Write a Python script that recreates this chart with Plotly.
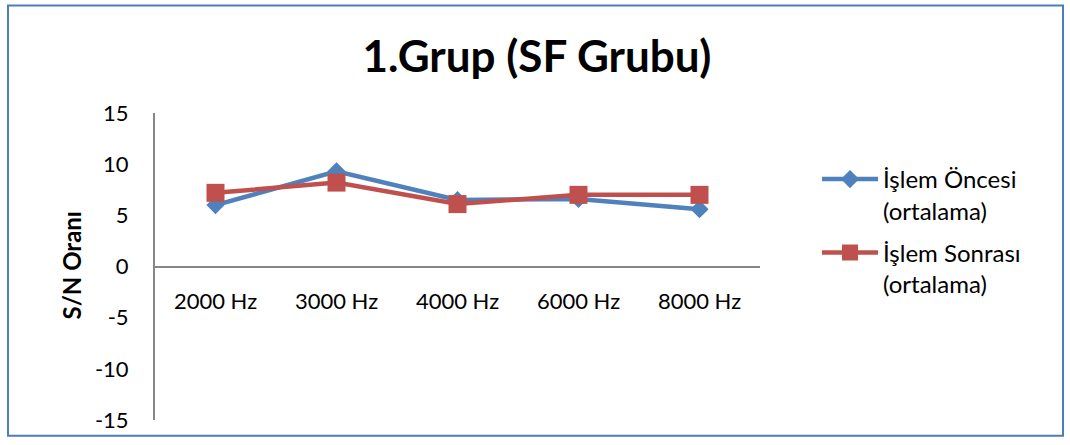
import plotly.graph_objects as go

categories = ["2000 Hz", "3000 Hz", "4000 Hz", "6000 Hz", "8000 Hz"]
oncesi = [6.0, 9.3, 6.5, 6.6, 5.6]
sonrasi = [7.2, 8.2, 6.1, 7.0, 7.0]
y_ticks = [-15, -10, -5, 0, 5, 10, 15]
y_tick_labels = [str(v) for v in y_ticks]
title_text = "1.Grup (SF Grubu)"
y_title = "S/N Oranı"
name_oncesi = "İşlem Öncesi<br>(ortalama)"
name_sonrasi = "İşlem Sonrası<br>(ortalama)"

FONT = "Lato"
BLUE = "#4F81BD"
RED = "#C0504D"
GRAY = "#868686"

W, H = 1070, 445
L, R, T, B = 155, 760, 113, 427

fig = go.Figure()
fig.add_trace(go.Scatter(
    x=categories, y=oncesi, name=name_oncesi, mode="lines+markers",
    legendgroup="g1",
    line=dict(color=BLUE, width=4.5),
    marker=dict(symbol="diamond", size=14, color=BLUE),
))
fig.add_trace(go.Scatter(
    x=categories, y=sonrasi, name=name_sonrasi, mode="lines+markers",
    legendgroup="g2",
    line=dict(color=RED, width=4.5),
    marker=dict(symbol="square", size=18, color=RED),
))

pw = R - L
ph = B - T


def px_x(x):
    return (x - L) / pw


def px_y(y):
    return (B - y) / ph


fig.update_layout(
    width=W, height=H,
    margin=dict(l=L, r=W - R, t=T, b=H - B, pad=0),
    paper_bgcolor="white", plot_bgcolor="white",
    font=dict(family=FONT, size=22, color="black"),
    title=dict(text="<b>" + title_text + "</b>", x=537 / W, xanchor="center",
               xref="container", y=1 - 57 / H, yanchor="middle", yref="container",
               font=dict(family=FONT, size=44, color="black")),
    xaxis=dict(
        type="category", range=[-0.5, 4.5],
        anchor="free", position=0.5,
        showline=True, linecolor=GRAY, linewidth=2,
        showgrid=False, zeroline=False, ticks="",
        ticklabelstandoff=15,
        tickfont=dict(family=FONT, size=22, color="black"),
    ),
    yaxis=dict(
        range=[-15, 15], tickvals=y_ticks, ticktext=y_tick_labels,
        showline=True, linecolor=GRAY, linewidth=2,
        showgrid=False, zeroline=False, ticks="",
        ticklabelstandoff=20,
        tickfont=dict(family=FONT, size=22, color="black"),
    ),
    showlegend=True,
    legend=dict(
        xref="container", yref="container",
        x=817 / W, xanchor="left", y=1 - 157 / H, yanchor="top",
        valign="top", itemwidth=56, tracegroupgap=8,
        font=dict(family=FONT, size=24, color="black"),
        bgcolor="rgba(0,0,0,0)",
    ),
    annotations=[dict(
        text="<b>" + y_title + "</b>", textangle=-90,
        xref="paper", yref="paper", x=px_x(72), y=px_y(269),
        xanchor="center", yanchor="middle", showarrow=False,
        font=dict(family=FONT, size=24, color="black"),
    )],
    shapes=[dict(
        type="rect", xref="paper", yref="paper",
        x0=px_x(8), x1=px_x(1063), y0=px_y(443), y1=px_y(3),
        line=dict(color="#4A7EBB", width=2), fillcolor="rgba(0,0,0,0)",
        layer="below",
    )],
)

fig.write_html(
    "out.html",
    config={"displayModeBar": False},
    post_script="document.body.style.margin='0';document.body.style.overflow='hidden';",
)
